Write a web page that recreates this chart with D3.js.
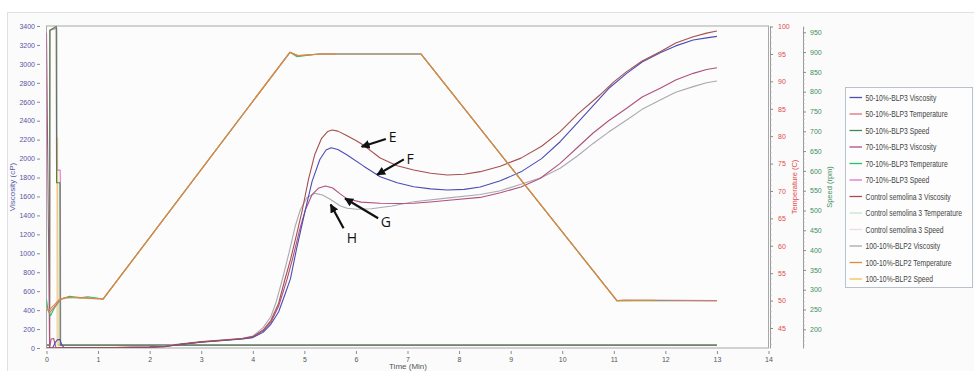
<!DOCTYPE html>
<html>
<head>
<meta charset="utf-8">
<script src="https://cdn.jsdelivr.net/npm/d3@7"></script>
<style>
body { margin: 0; background: #fff; }
text { font-family: "Liberation Sans", Arial, sans-serif; }
</style>
</head>
<body>
<svg id="rva-svg" width="974" height="371"></svg>
<script>
// ---- data (time in min) ----
let visc50 = [[0,0],[0.12,0],[0.17,60],[0.22,90],[0.26,88],[0.3,30],[0.34,4],[1,3],[1.5,4],[2,8],[2.3,15],[2.6,38],[3,62],[3.5,82],[3.8,95],[4,110],[4.2,165],[4.35,250],[4.5,380],[4.62,560],[4.73,730],[4.85,1050],[5.02,1460],[5.15,1760],[5.3,1990],[5.42,2090],[5.52,2115],[5.65,2095],[5.83,2038],[6.15,1920],[6.47,1809],[6.8,1745],[7.12,1703],[7.45,1680],[7.77,1668],[8.1,1675],[8.41,1700],[8.8,1765],[9.2,1860],[9.6,2000],[9.96,2178],[10.3,2380],[10.6,2560],[10.9,2740],[11.25,2900],[11.55,3020],[11.9,3118],[12.2,3190],[12.54,3252],[12.8,3275],[13,3290]];
let visc70 = [[0,3330],[0.06,0],[0.09,95],[0.14,100],[0.18,8],[0.3,3],[1,3],[2,9],[2.3,16],[2.6,38],[3,63],[3.5,84],[3.8,97],[4,115],[4.2,180],[4.35,270],[4.5,440],[4.66,718],[4.78,960],[4.9,1230],[5.02,1460],[5.15,1620],[5.28,1690],[5.41,1711],[5.55,1690],[5.7,1625],[5.83,1575],[6.1,1540],[6.47,1528],[6.8,1525],[7.12,1528],[7.5,1545],[7.8,1560],[8.41,1590],[8.8,1640],[9.2,1700],[9.57,1790],[9.96,1950],[10.3,2120],[10.6,2270],[10.9,2400],[11.25,2531],[11.55,2650],[11.9,2742],[12.2,2830],[12.54,2900],[12.8,2940],[13,2960]];
let viscCtrl = [[0,0],[0.3,2],[1,3],[2,10],[2.3,18],[2.6,40],[3,65],[3.5,86],[3.8,100],[4,120],[4.2,190],[4.35,290],[4.5,470],[4.62,718],[4.73,930],[4.85,1200],[4.96,1457],[5.08,1780],[5.2,2040],[5.33,2210],[5.45,2285],[5.54,2302],[5.65,2290],[5.8,2250],[6.0,2190],[6.15,2140],[6.47,2006],[6.8,1925],[7.12,1880],[7.45,1845],[7.77,1827],[8.1,1835],[8.41,1862],[8.8,1920],[9.2,2005],[9.6,2130],[9.96,2284],[10.3,2470],[10.73,2671],[11.0,2810],[11.25,2918],[11.55,3030],[11.9,3129],[12.2,3220],[12.54,3287],[12.8,3325],[13,3347]];
let visc100 = [[0,0],[0.3,3],[1,3],[2,12],[2.3,22],[2.6,45],[3,68],[3.5,88],[3.8,102],[4,125],[4.2,215],[4.35,330],[4.45,480],[4.57,718],[4.7,1000],[4.82,1280],[4.92,1457],[5.05,1590],[5.21,1633],[5.35,1615],[5.5,1570],[5.7,1500],[5.83,1475],[6.02,1465],[6.3,1470],[6.7,1500],[7.12,1545],[7.8,1585],[8.41,1620],[8.8,1660],[9.2,1730],[9.6,1800],[9.96,1898],[10.3,2030],[10.6,2160],[10.9,2280],[11.25,2408],[11.55,2520],[11.9,2619],[12.2,2700],[12.54,2760],[12.8,2800],[13,2820]];

let temp50 = [[0,48.8],[0.06,47.8],[0.15,48.8],[0.25,50],[0.35,50.5],[0.6,50.6],[0.9,50.4],[1.1,50.3],[4.72,95.3],[4.88,94.65],[5.05,94.8],[5.31,95.0],[7.26,95.0],[11.06,50.0],[11.2,50.1],[13,50.0]];
let temp70 = [[0,50.2],[0.03,48.2],[0.08,47.3],[0.15,48.6],[0.28,50.3],[0.45,50.8],[0.65,50.5],[0.8,50.7],[1.1,50.3],[4.72,95.3],[4.86,94.5],[5.0,94.7],[5.3,95.0],[7.26,95.0],[11.06,50.0],[13,50.0]];
let tempCtrl = [[0,48.6],[0.06,47.9],[0.15,48.9],[0.25,50.1],[0.4,50.5],[1.1,50.3],[4.72,95.3],[4.88,94.7],[5.3,95.0],[7.26,95.0],[11.06,50.0],[13,50.0]];
let temp100 = [[0,48.5],[0.05,48.3],[0.15,49.2],[0.25,50.2],[0.4,50.6],[1.1,50.3],[4.72,95.3],[4.87,94.7],[5.3,95.0],[5.6,95.0]];
let temp100b = [[7.26,95.0],[11.06,50.0],[11.8,50.05]];

let speed50 = [[0,160],[0.06,160],[0.065,955],[0.19,965],[0.195,570],[0.26,570],[0.265,160],[13,160]];
let speed70 = [[0,160],[0.06,160],[0.065,955],[0.2,960],[0.205,602],[0.265,602],[0.27,560],[0.275,160],[13,160]];
let speedCtrl = [[0,160],[0.06,160],[0.065,955],[0.19,960],[0.2,160],[13,160]];
let speed100 = [[0,160],[0.06,160],[0.065,955],[0.19,960],[0.195,683],[0.215,683],[0.218,464],[0.225,160],[13,160]];

let legendNames = ['50-10%-BLP3 Viscosity', '50-10%-BLP3 Temperature', '50-10%-BLP3 Speed',
    '70-10%-BLP3 Viscosity', '70-10%-BLP3 Temperature', '70-10%-BLP3 Speed',
    'Control semolina 3 Viscosity', 'Control semolina 3 Temperature', 'Control semolina 3 Speed',
    '100-10%-BLP2 Viscosity', '100-10%-BLP2 Temperature', '100-10%-BLP2 Speed'];
let legendColors = ['#4c4cb4', '#e0707a', '#3d8a57',
    '#b0507e', '#22c465', '#e274c6',
    '#a4504e', '#c6e6cf', '#f2dbe4',
    '#a9a9b1', '#de8a3c', '#f4c24a'];

let viscTicks = d3.range(0, 3401, 200);
let timeTicks = d3.range(0, 15, 1);
let tempTicks = d3.range(45, 101, 5);
let speedTicks = d3.range(200, 951, 50);

// annotations: [label, labelT, labelV, tailT, tailV, headT, headV]
let notes = [
    ['E', 6.71, 2231, 6.58, 2207, 6.11, 2125],
    ['F', 7.05, 2003, 6.93, 1992, 6.41, 1830],
    ['G', 6.58, 1334, 6.43, 1370, 5.79, 1578],
    ['H', 5.92, 1165, 5.76, 1264, 5.51, 1515]
];

// ---- layout ----
let svg = d3.select('#rva-svg');
let plot = {l: 46.5, r: 768.5, t: 26, b: 348};

let xScale = d3.scaleLinear().domain([0, 14]).range([plot.l, plot.r]);
let viscScale = d3.scaleLinear().domain([0, 3400]).range([plot.b, plot.t]);
let tempScale = d3.scaleLinear().domain([41.35, 100.1]).range([plot.b, plot.t]);
let speedScale = d3.scaleLinear().domain([152.8, 965.9]).range([plot.b, plot.t]);

// panel background
svg.append('rect')
    .attr('x', 7.5).attr('y', 12.5)
    .attr('width', 980).attr('height', 380)
    .attr('fill', '#fbfbfb')
    .attr('stroke', '#e0e0e0');

svg.append('rect')
    .attr('x', plot.l).attr('y', plot.t)
    .attr('width', plot.r - plot.l).attr('height', plot.b - plot.t)
    .attr('fill', '#fcfcfc')
    .attr('stroke', '#a8a8a8')
    .attr('stroke-width', 1);

svg.append('clipPath').attr('id', 'plot-clip')
    .append('rect')
    .attr('x', plot.l).attr('y', plot.t)
    .attr('width', plot.r - plot.l).attr('height', plot.b - plot.t);

// ---- axes ----
function styleAxis(g, color, size){
    g.selectAll('text').attr('fill', color).style('font-size', size + 'px');
    g.selectAll('.tick line').attr('stroke', '#8a8a8a');
    g.select('.domain').attr('stroke', '#9a9a9a');
}

let viscAxisG = svg.append('g')
    .attr('transform', 'translate(40,0)')
    .call(d3.axisLeft(viscScale).tickValues(viscTicks).tickFormat(d3.format('d')).tickSize(3).tickPadding(2));
viscAxisG.select('.domain').remove();
styleAxis(viscAxisG, '#5656a6', 7);

let timeAxisG = svg.append('g')
    .attr('transform', 'translate(0,351)')
    .call(d3.axisBottom(xScale).tickValues(timeTicks).tickSize(3).tickPadding(3));
timeAxisG.select('.domain').remove();
styleAxis(timeAxisG, '#555', 7);

let tempAxisG = svg.append('g')
    .attr('transform', 'translate(770,0)')
    .call(d3.axisRight(tempScale).tickValues(tempTicks).tickSize(3).tickPadding(5).tickSizeOuter(0));
styleAxis(tempAxisG, '#e24a4a', 7);
tempAxisG.append('g').selectAll('line')
    .data(d3.range(42, 101, 1).filter(d => d % 5 !== 0))
    .join('line')
    .attr('x1', 0).attr('x2', 1.5)
    .attr('y1', d => tempScale(d)).attr('y2', d => tempScale(d))
    .attr('stroke', '#aaa');

let speedAxisG = svg.append('g')
    .attr('transform', 'translate(803,0)')
    .call(d3.axisRight(speedScale).tickValues(speedTicks).tickSize(3).tickPadding(4).tickSizeOuter(0));
styleAxis(speedAxisG, '#3f8f5c', 7);
speedAxisG.append('g').selectAll('line')
    .data(d3.range(160, 961, 10).filter(d => d % 50 !== 0))
    .join('line')
    .attr('x1', 0).attr('x2', 1.5)
    .attr('y1', d => speedScale(d)).attr('y2', d => speedScale(d))
    .attr('stroke', '#aaa');

// axis titles
svg.append('text')
    .attr('transform', `translate(15,${(plot.t + plot.b) / 2}) rotate(270)`)
    .attr('text-anchor', 'middle')
    .attr('fill', '#5656a6')
    .style('font-size', '8px')
    .text('Viscosity (cP)');
svg.append('text')
    .attr('transform', `translate(797,${(plot.t + plot.b) / 2}) rotate(270)`)
    .attr('text-anchor', 'middle')
    .attr('fill', '#e24a4a')
    .style('font-size', '7.5px')
    .text('Temperature (C)');
svg.append('text')
    .attr('transform', `translate(832,${(plot.t + plot.b) / 2}) rotate(270)`)
    .attr('text-anchor', 'middle')
    .attr('fill', '#3f8f5c')
    .style('font-size', '7.5px')
    .text('Speed (rpm)');
svg.append('text')
    .attr('x', 408).attr('y', 369)
    .attr('text-anchor', 'middle')
    .attr('fill', '#555')
    .style('font-size', '8px')
    .text('Time (Min)');

// ---- lines ----
let linesG = svg.append('g').attr('clip-path', 'url(#plot-clip)');
function lineFor(scale){
    return d3.line().x(d => xScale(d[0])).y(d => scale(d[1]));
}
// draw order: speeds, viscosities, temperatures
let drawList = [
    [speedCtrl, speedScale, 8], [speed100, speedScale, 11], [speed70, speedScale, 5], [speed50, speedScale, 2],
    [visc100, viscScale, 9], [visc70, viscScale, 3], [visc50, viscScale, 0], [viscCtrl, viscScale, 6],
    [tempCtrl, tempScale, 7], [temp70, tempScale, 4], [temp50, tempScale, 1],
    [temp100, tempScale, 10], [temp100b, tempScale, 10]
];
drawList.forEach(item => {
    linesG.append('path')
        .datum(item[0])
        .attr('fill', 'none')
        .attr('stroke', legendColors[item[2]])
        .attr('stroke-width', 1.1)
        .attr('stroke-linejoin', 'round')
        .attr('d', lineFor(item[1]));
});

// ---- annotations ----
svg.append('defs').append('marker')
    .attr('id', 'arrow-head')
    .attr('viewBox', '0 0 10 10')
    .attr('refX', 9).attr('refY', 5)
    .attr('markerWidth', 4).attr('markerHeight', 4)
    .attr('markerUnits', 'strokeWidth')
    .attr('orient', 'auto')
    .append('path')
    .attr('d', 'M0,0 L10,5 L0,10 z')
    .attr('fill', '#111');

let notesG = svg.append('g');
notes.forEach(n => {
    notesG.append('line')
        .attr('x1', xScale(n[3])).attr('y1', viscScale(n[4]))
        .attr('x2', xScale(n[5])).attr('y2', viscScale(n[6]))
        .attr('stroke', '#111')
        .attr('stroke-width', 2.2)
        .attr('marker-end', 'url(#arrow-head)');
    notesG.append('text')
        .attr('x', xScale(n[1])).attr('y', viscScale(n[2]))
        .attr('text-anchor', 'middle')
        .attr('dominant-baseline', 'central')
        .attr('fill', '#111')
        .style('font-family', '"Open Sans", sans-serif')
        .style('font-size', '14px')
        .text(n[0]);
});

// ---- legend ----
let legendG = svg.append('g').attr('transform', 'translate(845.5,87.5)');
legendG.append('rect')
    .attr('width', 127).attr('height', 200)
    .attr('fill', '#fdfdfd')
    .attr('stroke', '#b9c2cc');
legendNames.forEach((name, i) => {
    let row = legendG.append('g').attr('transform', `translate(0,${10 + i * 16.5})`);
    row.append('line')
        .attr('x1', 4).attr('x2', 16.5)
        .attr('stroke', legendColors[i])
        .attr('stroke-width', 1.3);
    // narrow lettering, as in the source chart
    row.append('text')
        .attr('transform', 'translate(20,3) scale(0.8,1)')
        .attr('fill', '#444')
        .style('font-size', '8.5px')
        .text(name);
});
</script>
</body>
</html>
